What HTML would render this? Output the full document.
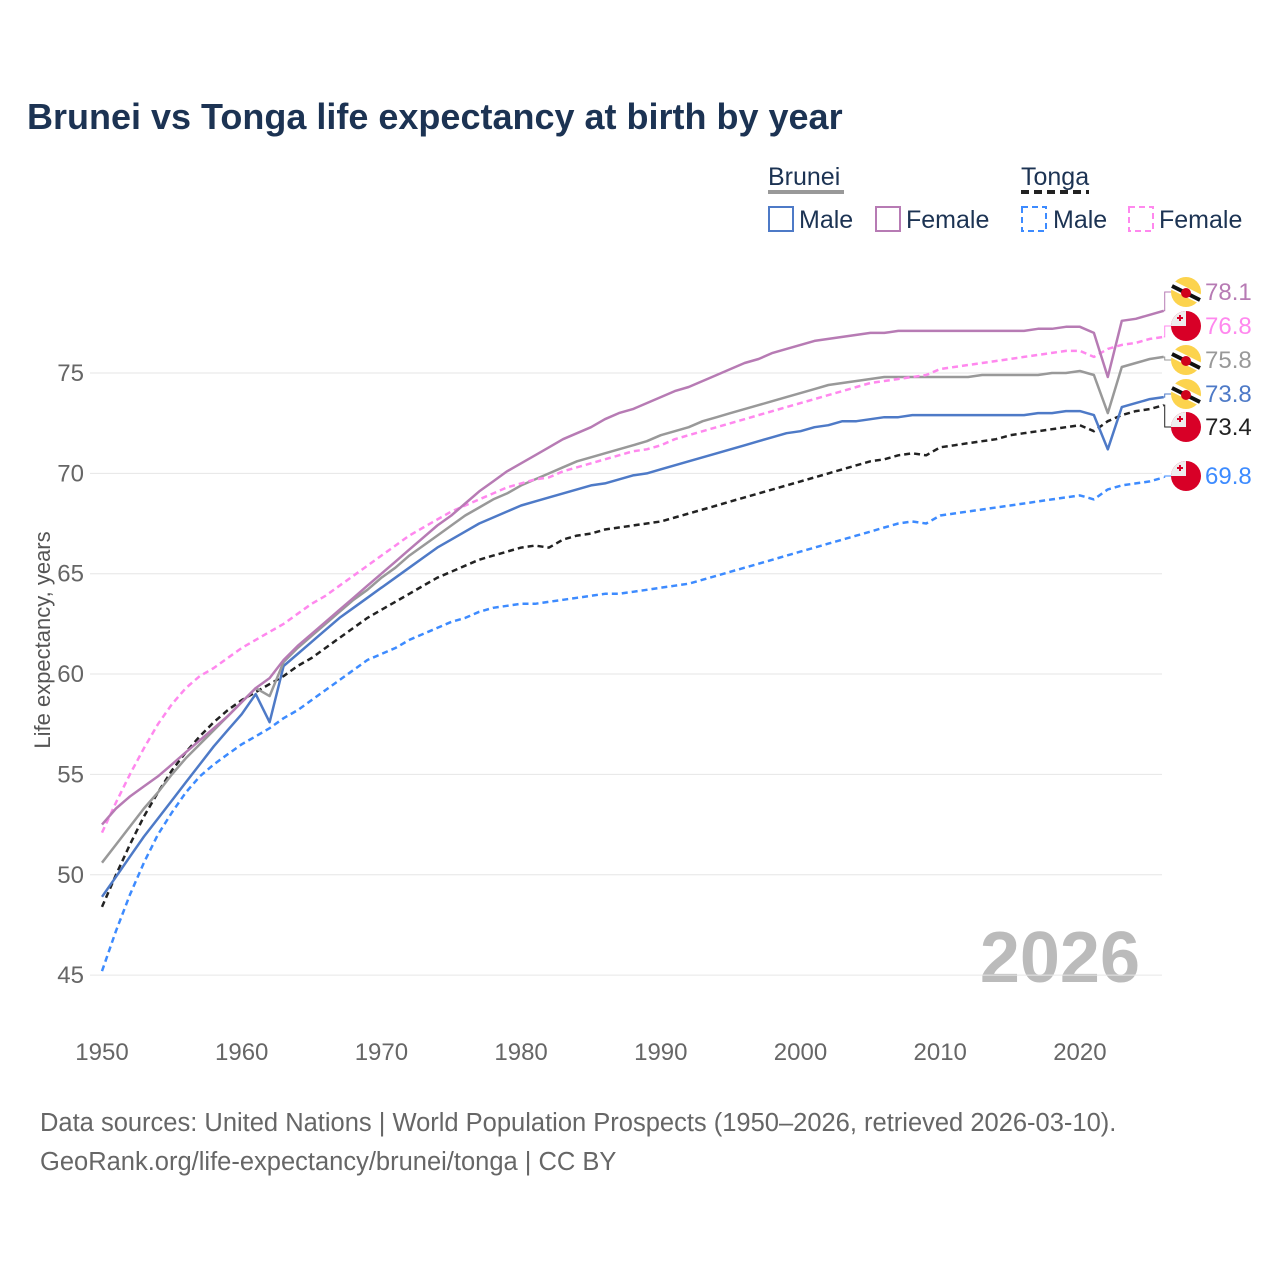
<!DOCTYPE html>
<html><head><meta charset="utf-8">
<style>
body{margin:0;background:#fff;font-family:"Liberation Sans",sans-serif;}
svg text{font-family:"Liberation Sans",sans-serif;}
</style></head>
<body>
<svg id="chart" width="1280" height="1280" xmlns="http://www.w3.org/2000/svg">
<rect width="1280" height="1280" fill="#fff"/>
<text x="27" y="129" font-size="36" font-weight="bold" fill="#1c3353">Brunei vs Tonga life expectancy at birth by year</text>
<g font-size="25" fill="#1c3353">
<text x="768" y="185">Brunei</text>
<line x1="768" y1="192" x2="844" y2="192" stroke="#999" stroke-width="4"/>
<text x="1021" y="185">Tonga</text>
<line x1="1021" y1="192" x2="1089" y2="192" stroke="#222" stroke-width="4" stroke-dasharray="8,5"/>
<g><rect x="769" y="207" width="24" height="24" fill="none" stroke="#4e7ac7" stroke-width="2"/><text x="799" y="228">Male</text></g>
<g><rect x="876" y="207" width="24" height="24" fill="none" stroke="#b77bb4" stroke-width="2"/><text x="906" y="228">Female</text></g>
<g><rect x="1022" y="207" width="24" height="24" fill="none" stroke="#3d8bff" stroke-width="2" stroke-dasharray="6,4"/><text x="1053" y="228">Male</text></g>
<g><rect x="1129" y="207" width="24" height="24" fill="none" stroke="#ff88ee" stroke-width="2" stroke-dasharray="6,4"/><text x="1159" y="228">Female</text></g>
</g>
<text transform="translate(50,640) rotate(-90)" text-anchor="middle" font-size="22" fill="#555">Life expectancy, years</text>
<text x="1140" y="982" text-anchor="end" font-size="72" font-weight="bold" fill="#bbb">2026</text>
<g id="grid"></g><g id="series"></g><g id="labels"></g>
<text x="40" y="1131" font-size="25.5" fill="#666">Data sources: United Nations | World Population Prospects (1950–2026, retrieved 2026-03-10).</text>
<text x="40" y="1170" font-size="25.5" fill="#666">GeoRank.org/life-expectancy/brunei/tonga | CC BY</text>
</svg>
<script>
const startYear = 1950;
const yTicks = [45,50,55,60,65,70,75];
const xTicks = [1950,1960,1970,1980,1990,2000,2010,2020];
const bruneiFemale = [52.5,53.3,53.9,54.4,54.9,55.5,56.1,56.7,57.3,57.9,58.6,59.3,59.8,60.7,61.4,62.0,62.6,63.2,63.8,64.4,65.0,65.6,66.2,66.8,67.4,67.9,68.5,69.1,69.6,70.1,70.5,70.9,71.3,71.7,72.0,72.3,72.7,73.0,73.2,73.5,73.8,74.1,74.3,74.6,74.9,75.2,75.5,75.7,76.0,76.2,76.4,76.6,76.7,76.8,76.9,77.0,77.0,77.1,77.1,77.1,77.1,77.1,77.1,77.1,77.1,77.1,77.1,77.2,77.2,77.3,77.3,77.0,74.8,77.6,77.7,77.9,78.1];
const bruneiTotal = [50.6,51.5,52.4,53.3,54.1,55.0,55.8,56.5,57.2,57.9,58.6,59.3,58.9,60.6,61.3,61.9,62.5,63.1,63.7,64.2,64.8,65.3,65.9,66.4,66.9,67.4,67.9,68.3,68.7,69.0,69.4,69.7,70.0,70.3,70.6,70.8,71.0,71.2,71.4,71.6,71.9,72.1,72.3,72.6,72.8,73.0,73.2,73.4,73.6,73.8,74.0,74.2,74.4,74.5,74.6,74.7,74.8,74.8,74.8,74.8,74.8,74.8,74.8,74.9,74.9,74.9,74.9,74.9,75.0,75.0,75.1,74.9,73.0,75.3,75.5,75.7,75.8];
const bruneiMale = [48.9,49.9,50.9,51.9,52.8,53.7,54.6,55.5,56.4,57.2,58.0,59.0,57.6,60.4,61.0,61.6,62.2,62.8,63.3,63.8,64.3,64.8,65.3,65.8,66.3,66.7,67.1,67.5,67.8,68.1,68.4,68.6,68.8,69.0,69.2,69.4,69.5,69.7,69.9,70.0,70.2,70.4,70.6,70.8,71.0,71.2,71.4,71.6,71.8,72.0,72.1,72.3,72.4,72.6,72.6,72.7,72.8,72.8,72.9,72.9,72.9,72.9,72.9,72.9,72.9,72.9,72.9,73.0,73.0,73.1,73.1,72.9,71.2,73.3,73.5,73.7,73.8];
const tongaFemale = [52.1,53.6,55.0,56.3,57.5,58.5,59.3,59.9,60.3,60.8,61.3,61.7,62.1,62.5,63.0,63.5,63.9,64.4,64.9,65.4,65.9,66.4,66.9,67.3,67.7,68.1,68.4,68.7,69.0,69.3,69.5,69.7,69.8,70.1,70.3,70.5,70.7,70.9,71.1,71.2,71.4,71.7,71.9,72.1,72.3,72.5,72.7,72.9,73.1,73.3,73.5,73.7,73.9,74.1,74.3,74.5,74.6,74.7,74.8,74.9,75.2,75.3,75.4,75.5,75.6,75.7,75.8,75.9,76.0,76.1,76.1,75.8,76.2,76.4,76.5,76.7,76.8];
const tongaTotal = [48.4,50.0,51.5,52.9,54.1,55.2,56.1,56.9,57.6,58.2,58.7,59.1,59.5,59.9,60.4,60.8,61.3,61.8,62.3,62.8,63.2,63.6,64.0,64.4,64.8,65.1,65.4,65.7,65.9,66.1,66.3,66.4,66.3,66.7,66.9,67.0,67.2,67.3,67.4,67.5,67.6,67.8,68.0,68.2,68.4,68.6,68.8,69.0,69.2,69.4,69.6,69.8,70.0,70.2,70.4,70.6,70.7,70.9,71.0,70.9,71.3,71.4,71.5,71.6,71.7,71.9,72.0,72.1,72.2,72.3,72.4,72.1,72.6,72.9,73.1,73.2,73.4];
const tongaMale = [45.2,47.2,49.0,50.6,52.0,53.1,54.1,54.9,55.5,56.0,56.5,56.9,57.3,57.8,58.2,58.7,59.2,59.7,60.2,60.7,61.0,61.3,61.7,62.0,62.3,62.6,62.8,63.1,63.3,63.4,63.5,63.5,63.6,63.7,63.8,63.9,64.0,64.0,64.1,64.2,64.3,64.4,64.5,64.7,64.9,65.1,65.3,65.5,65.7,65.9,66.1,66.3,66.5,66.7,66.9,67.1,67.3,67.5,67.6,67.5,67.9,68.0,68.1,68.2,68.3,68.4,68.5,68.6,68.7,68.8,68.9,68.7,69.2,69.4,69.5,69.6,69.8];

const NS='http://www.w3.org/2000/svg';
function xs(year){return 102+(year-1950)*13.97;}
function ys(v){return 373+(75-v)*20.07;}
function mk(tag,attrs,parent){const e=document.createElementNS(NS,tag);for(const k in attrs)e.setAttribute(k,attrs[k]);parent.appendChild(e);return e;}
const grid=document.getElementById('grid');
yTicks.forEach(t=>{
  const l=mk('line',{x1:90,x2:1162,y1:ys(t),y2:ys(t),stroke:'#e6e6e6','stroke-width':1},grid);
  
  
  const tx=mk('text',{x:84,y:ys(t)+8,'text-anchor':'end','font-size':24,fill:'#666'},grid);
  tx.textContent=t;
  
  
});
xTicks.forEach(t=>{
  const tx=mk('text',{x:xs(t),y:1060,'text-anchor':'middle','font-size':24,fill:'#666'},grid);
  tx.textContent=t;
  
  
});
const series=[
 {n:'tonga-male',d:tongaMale,c:'#3d8bff',dash:'6,4',lab:69.8,flag:'tonga',ly:476},
 {n:'tonga-total',d:tongaTotal,c:'#222',dash:'6,4',lab:73.4,flag:'tonga',ly:427},
 {n:'brunei-male',d:bruneiMale,c:'#4e7ac7',dash:null,lab:73.8,flag:'brunei',ly:394},
 {n:'brunei-total',d:bruneiTotal,c:'#999',dash:null,lab:75.8,flag:'brunei',ly:360},
 {n:'tonga-female',d:tongaFemale,c:'#ff88ee',dash:'6,4',lab:76.8,flag:'tonga',ly:326},
 {n:'brunei-female',d:bruneiFemale,c:'#b77bb4',dash:null,lab:78.1,flag:'brunei',ly:292}
];
const sg=document.getElementById('series'), lg=document.getElementById('labels');
series.forEach(s=>{
  const pts=s.d.map((v,i)=>xs(startYear+i).toFixed(1)+','+ys(v).toFixed(1)).join(' ');
  const a={points:pts,fill:'none',stroke:s.c,'stroke-width':2.5,'stroke-linejoin':'round'};
  if(s.dash)a['stroke-dasharray']=s.dash;
  const p=mk('polyline',a,sg);
  
  
  const lastX=xs(startYear+s.d.length-1), lastY=ys(s.d[s.d.length-1]);
  const c=mk('polyline',{points:`${lastX},${lastY} ${lastX+1},${lastY} ${lastX+1},${s.ly} ${lastX+8},${s.ly}`,fill:'none',stroke:s.c,'stroke-width':1},lg);
  
  
  const g=mk('g',{},lg);
  
  
  const fx=1186, fy=s.ly;
  if(s.flag==='brunei'){
    mk('circle',{cx:fx,cy:fy,r:15,fill:'#fcd34d'},g);
    mk('line',{x1:fx-14,y1:fy-7,x2:fx+14,y2:fy+7,stroke:'#fff','stroke-width':9},g);
    mk('line',{x1:fx-14,y1:fy-6,x2:fx+14,y2:fy+8,stroke:'#111','stroke-width':4},g);
    mk('circle',{cx:fx,cy:fy+1,r:5,fill:'#d0021b'},g);
  } else {
    mk('circle',{cx:fx,cy:fy,r:15,fill:'#d80027'},g);
    mk('path',{d:`M${fx-15},${fy} A15,15 0 0 1 ${fx},${fy-15} L${fx},${fy} Z`,fill:'#eee'},g);
    mk('rect',{x:fx-9,y:fy-9,width:6,height:2,fill:'#d80027'},g);
    mk('rect',{x:fx-7,y:fy-11,width:2,height:6,fill:'#d80027'},g);
  }
  const t=mk('text',{x:1205,y:s.ly+8,'font-size':24,fill:s.c},lg);
  t.textContent=s.lab.toFixed(1);
  
  
});
</script>
</body></html>
